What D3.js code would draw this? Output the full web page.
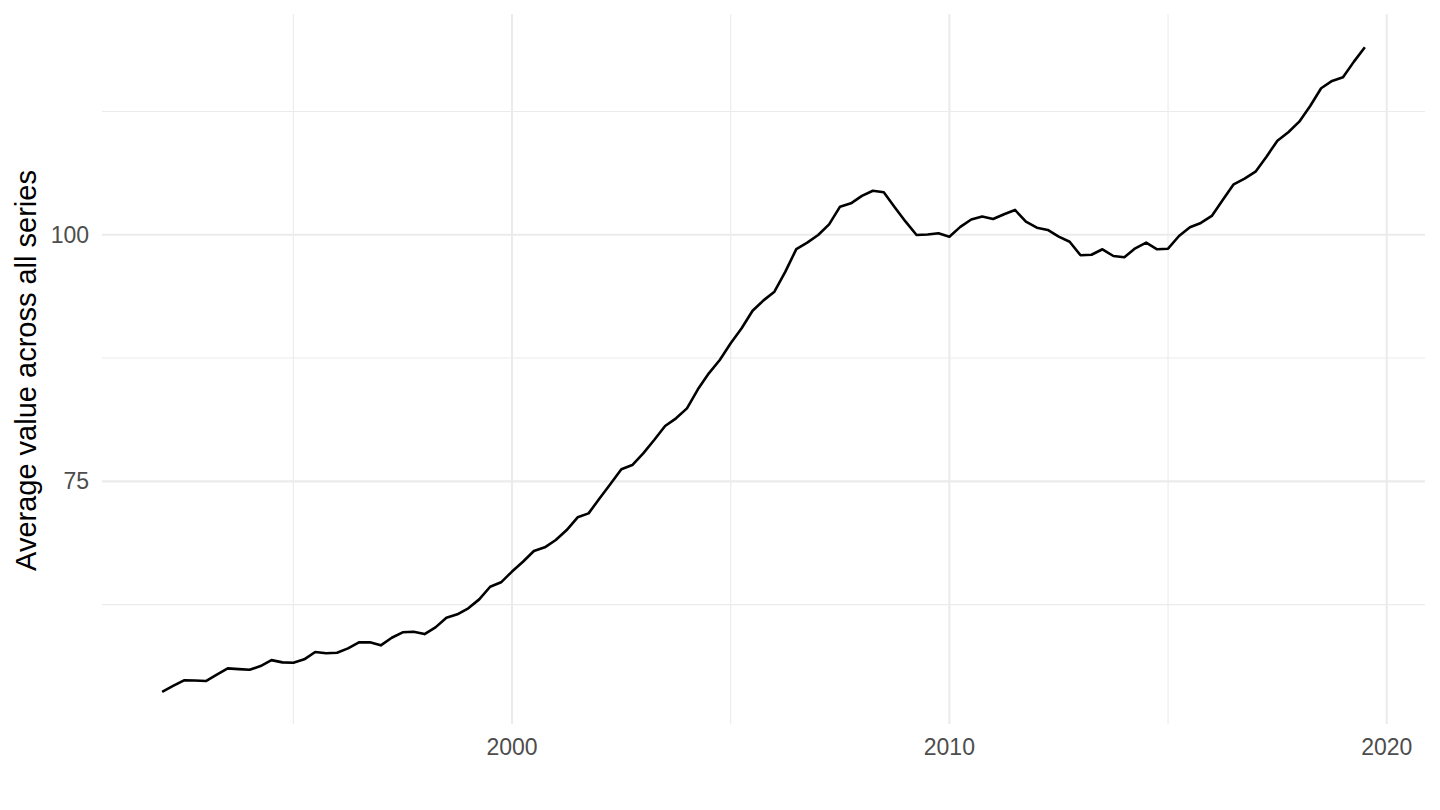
<!DOCTYPE html>
<html>
<head>
<meta charset="utf-8">
<script src="https://cdn.jsdelivr.net/npm/d3@7"></script>
<style>
	body { margin: 0; background: #ffffff; }
	svg { display: block; }
	.grid-major line { stroke: #ebebeb; stroke-width: 2.1; }
	.grid-minor line { stroke: #ebebeb; stroke-width: 1.1; }
	.tick-label { font-family: "Liberation Sans", Arial, sans-serif; font-size: 23px; fill: #4d4d4d; }
	.axis-title { font-family: "Liberation Sans", Arial, sans-serif; font-size: 29px; fill: #000000; }
	.line { fill: none; stroke: #000000; stroke-width: 2.6; stroke-linejoin: round; }
</style>
</head>
<body>
<div id="chart"></div>
<script>
// quarterly series, first point = 1992 Q1
var startYear = 1992;
var quarterStep = 0.25;
var values = [
	53.66, 54.25, 54.82, 54.80, 54.75, 55.40, 56.03, 55.96, 55.89, 56.27,
	56.87, 56.64, 56.60, 56.95, 57.69, 57.56, 57.62, 58.06, 58.67, 58.67,
	58.37, 59.14, 59.69, 59.75, 59.51, 60.19, 61.17, 61.51, 62.12, 63.03,
	64.31, 64.76, 65.85, 66.85, 67.93, 68.31, 69.05, 70.06, 71.35, 71.75,
	73.26, 74.73, 76.22, 76.65, 77.84, 79.19, 80.61, 81.39, 82.40, 84.33,
	85.95, 87.30, 89.00, 90.52, 92.30, 93.35, 94.23, 96.26, 98.55, 99.20,
	99.98, 101.06, 102.85, 103.19, 103.94, 104.47, 104.31, 102.79, 101.33, 99.98,
	100.03, 100.15, 99.81, 100.80, 101.55, 101.85, 101.60, 102.08, 102.52, 101.33,
	100.72, 100.49, 99.81, 99.30, 97.92, 97.98, 98.53, 97.85, 97.72, 98.63,
	99.20, 98.53, 98.59, 99.88, 100.76, 101.20, 101.91, 103.53, 105.12, 105.69,
	106.40, 107.92, 109.54, 110.40, 111.47, 113.06, 114.86, 115.60, 115.97, 117.56,
	119.02
];
var xMajorTicks = [2000, 2010, 2020];
var xMinorTicks = [1995, 2005, 2015];
var yMajorTicks = [75, 100];
var yMinorTicks = [62.5, 87.5, 112.5];
var yTitle = "Average value across all series";

var _outer = { width: 1440, height: 810 };
var _panel = { left: 102, right: 1425, top: 15, bottom: 724 };

var data = values.map(function (v, i) {
	return { year: startYear + i * quarterStep, value: v };
});

// ggplot-like 5% expansion on both axes
function expand(ext) {
	var pad = (ext[1] - ext[0]) * 0.05;
	return [ext[0] - pad, ext[1] + pad];
}

var xScale = d3.scaleLinear()
	.domain(expand(d3.extent(data, function (d) { return d.year; })))
	.range([_panel.left, _panel.right]);

var yScale = d3.scaleLinear()
	.domain(expand(d3.extent(data, function (d) { return d.value; })))
	.range([_panel.bottom, _panel.top]);

var svg = d3.select("#chart").append("svg")
	.attr("width", _outer.width)
	.attr("height", _outer.height);

svg.append("rect")
	.attr("width", _outer.width)
	.attr("height", _outer.height)
	.attr("fill", "#ffffff");

//minor grid first, major grid on top
var minor = svg.append("g").attr("class", "grid-minor");
minor.selectAll("line.x")
	.data(xMinorTicks)
	.enter().append("line")
	.attr("class", "x")
	.attr("x1", function (d) { return xScale(d); })
	.attr("x2", function (d) { return xScale(d); })
	.attr("y1", _panel.top - 1)
	.attr("y2", _panel.bottom);
minor.selectAll("line.y")
	.data(yMinorTicks)
	.enter().append("line")
	.attr("class", "y")
	.attr("x1", _panel.left)
	.attr("x2", _panel.right)
	.attr("y1", function (d) { return yScale(d); })
	.attr("y2", function (d) { return yScale(d); });

var major = svg.append("g").attr("class", "grid-major");
major.selectAll("line.x")
	.data(xMajorTicks)
	.enter().append("line")
	.attr("class", "x")
	.attr("x1", function (d) { return xScale(d); })
	.attr("x2", function (d) { return xScale(d); })
	.attr("y1", _panel.top - 1)
	.attr("y2", _panel.bottom);
major.selectAll("line.y")
	.data(yMajorTicks)
	.enter().append("line")
	.attr("class", "y")
	.attr("x1", _panel.left)
	.attr("x2", _panel.right)
	.attr("y1", function (d) { return yScale(d); })
	.attr("y2", function (d) { return yScale(d); });

//tick labels
svg.append("g").selectAll("text")
	.data(xMajorTicks)
	.enter().append("text")
	.attr("class", "tick-label")
	.attr("text-anchor", "middle")
	.attr("x", function (d) { return xScale(d); })
	.attr("y", 755)
	.text(function (d) { return d; });

svg.append("g").selectAll("text")
	.data(yMajorTicks)
	.enter().append("text")
	.attr("class", "tick-label")
	.attr("text-anchor", "end")
	.attr("dominant-baseline", "central")
	.attr("x", 89)
	.attr("y", function (d) { return yScale(d); })
	.text(function (d) { return d; });

//y axis title
svg.append("text")
	.attr("class", "axis-title")
	.attr("text-anchor", "middle")
	.attr("transform", "translate(36," + ((_panel.top + _panel.bottom) / 2 + 1) + ") rotate(-90)")
	.text(yTitle);

//the series
var lineFunction = d3.line()
	.x(function (d) { return xScale(d.year); })
	.y(function (d) { return yScale(d.value); })
	.curve(d3.curveLinear);

svg.append("path")
	.datum(data)
	.attr("class", "line")
	.attr("d", lineFunction);
</script>
</body>
</html>
